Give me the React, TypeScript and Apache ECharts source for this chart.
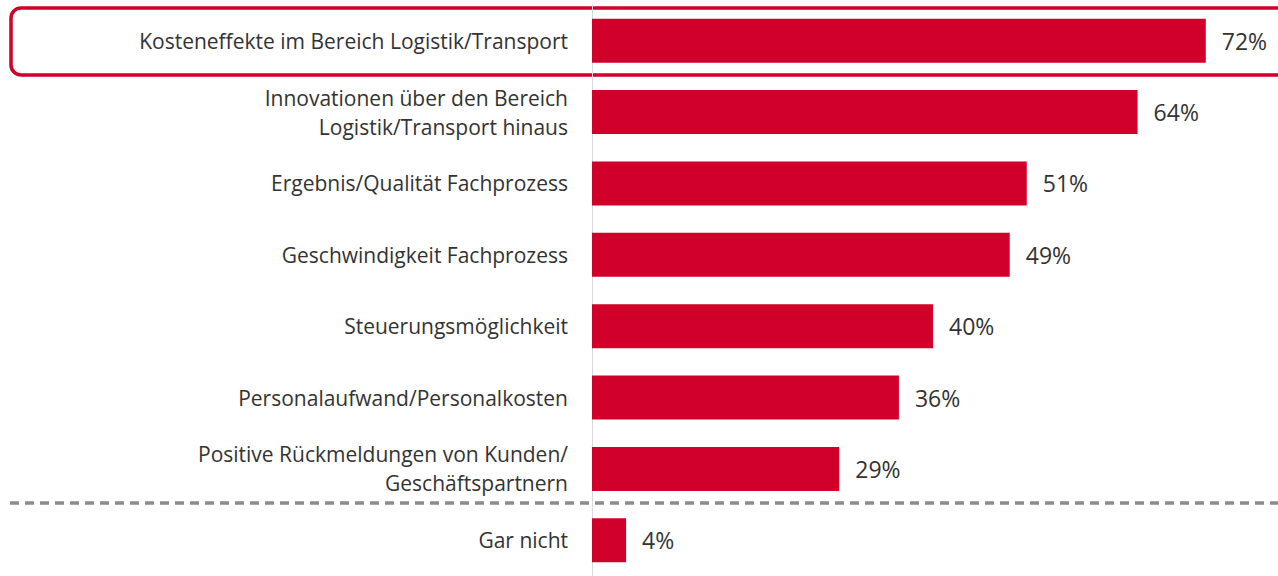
import React, { useEffect, useRef } from "react";
import * as echarts from "echarts";

const categories = [
  "Kosteneffekte im Bereich Logistik/Transport",
  "Innovationen über den Bereich\nLogistik/Transport hinaus",
  "Ergebnis/Qualität Fachprozess",
  "Geschwindigkeit Fachprozess",
  "Steuerungsmöglichkeit",
  "Personalaufwand/Personalkosten",
  "Positive Rückmeldungen von Kunden/\nGeschäftspartnern",
  "Gar nicht",
];
const values = [72, 64, 51, 49, 40, 36, 29, 4];

const RED = "#d0002b";
const FONT = "Open Sans";

export default function App() {
  const ref = useRef<HTMLDivElement>(null);
  useEffect(() => {
    if (!ref.current) return;
    const chart = echarts.init(ref.current, null, { renderer: "svg" });
    chart.setOption({
      animation: false,
      backgroundColor: "#ffffff",
      grid: { left: 592, right: 4, top: 5, bottom: -3, containLabel: false },
      xAxis: {
        type: "value",
        min: 0,
        max: 80,
        show: false,
      },
      yAxis: {
        type: "category",
        data: categories,
        inverse: true,
        axisLine: { show: true, lineStyle: { color: "#d9d9d9", width: 1 } },
        axisTick: { show: false },
        axisLabel: {
          margin: 24,
          color: "#333333",
          fontFamily: FONT,
          fontSize: 21,
          lineHeight: 29,
          align: "right",
        },
      },
      series: [
        {
          type: "bar",
          data: values,
          barWidth: 44,
          itemStyle: { color: RED },
          label: {
            show: true,
            position: "right",
            distance: 16,
            formatter: "{c}%",
            color: "#333333",
            fontFamily: FONT,
            fontSize: 23,
          },
        },
      ],
      graphic: [
        {
          type: "rect",
          shape: { x: 11, y: 8, width: 1300, height: 67, r: 10 },
          style: { fill: "none", stroke: RED, lineWidth: 3.5 },
          silent: true,
        },
        {
          type: "line",
          shape: { x1: 10, y1: 503, x2: 1278, y2: 503 },
          style: { stroke: "#8c8c8c", lineWidth: 3.5, lineDash: [9, 6] },
          silent: true,
        },
      ],
    });
    return () => chart.dispose();
  }, []);
  return (
    <div
      ref={ref}
      style={{ position: "absolute", left: 0, top: 0, width: 1278, height: 576 }}
    />
  );
}
